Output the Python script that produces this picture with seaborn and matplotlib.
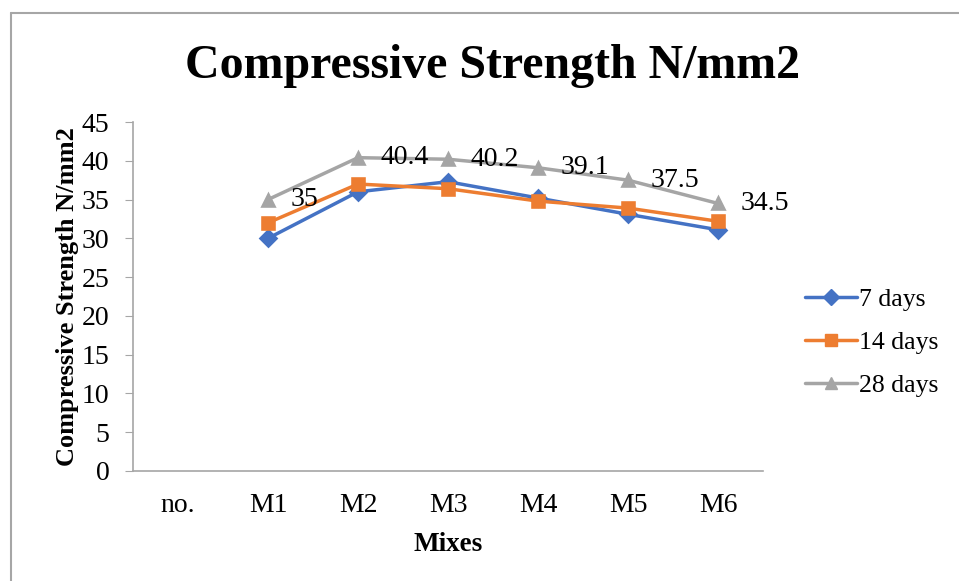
import matplotlib
matplotlib.use("Agg")
import matplotlib.pyplot as plt
from matplotlib.lines import Line2D
import pandas as pd
import seaborn as sns

# chart data
mixes = ['no.', 'M1', 'M2', 'M3', 'M4', 'M5', 'M6']
days_7 = [30.0, 36.0, 37.3, 35.2, 33.1, 31.1]
days_14 = [32.0, 37.0, 36.4, 34.8, 33.9, 32.2]
days_28 = [35.0, 40.4, 40.2, 39.1, 37.5, 34.5]
series_names = ['7 days', '14 days', '28 days']
yticks = [0, 5, 10, 15, 20, 25, 30, 35, 40, 45]

colors = ['#4472C4', '#ED7D31', '#A5A5A5']
markers = ['D', 's', '^']

sns.set_style('white')
plt.rcParams['font.family'] = ['Liberation Serif', 'DejaVu Serif']
plt.rcParams['text.color'] = 'black'
plt.rcParams['axes.labelcolor'] = 'black'
plt.rcParams['xtick.color'] = 'black'
plt.rcParams['ytick.color'] = 'black'

df = pd.DataFrame({
    'mix': mixes[1:] * 3,
    'val': days_7 + days_14 + days_28,
    'series': [s for s in series_names for _ in range(6)],
})

fig = plt.figure(figsize=(9.59, 5.81), dpi=100)
ax = fig.add_axes([133 / 959, 1 - 471 / 581, 630 / 959, 349 / 581])

sns.pointplot(data=df, x='mix', y='val', hue='series', order=mixes,
              hue_order=series_names, palette=colors, markers=markers,
              linestyles='-', errorbar=None, ax=ax, legend=False,
              markersize=8.5, linewidth=2.5)

ax.set_ylim(0, 45)
ax.set_yticks(yticks)
ax.set_xlim(-0.5, len(mixes) - 0.5)
for s in ['top', 'right']:
    ax.spines[s].set_visible(False)
for s in ['left', 'bottom']:
    ax.spines[s].set_color('#A6A6A6')
    ax.spines[s].set_linewidth(1.2)
ax.tick_params(axis='y', direction='out', length=6, color='#A6A6A6',
               labelsize=20, pad=11, left=True, labelcolor='black')
ax.tick_params(axis='x', length=0, labelsize=20, pad=16, labelcolor='black')
ax.set_ylabel('Compressive Strength N/mm2', fontsize=19, fontweight='bold', labelpad=2)
ax.set_xlabel('Mixes', fontsize=19.5, fontweight='bold', labelpad=10)

# data labels on the 28 days series
for i, v in enumerate(days_28):
    ax.annotate(f'{v:g}', (i + 1, v), xytext=(16, 0), textcoords='offset points',
                ha='left', va='center', fontsize=20)

fig.suptitle('Compressive Strength N/mm2', x=492 / 959, y=1 - 66 / 581,
             va='center', fontsize=34.5, fontweight='bold')

handles = [Line2D([], [], color=c, marker=m, markersize=8.5, linewidth=2.5)
           for c, m in zip(colors, markers)]
fig.legend(handles, series_names, loc='upper left',
           bbox_to_anchor=(782 / 959, 1 - 265 / 581), frameon=False,
           fontsize=18.5, handlelength=2.0, handletextpad=0.1, labelspacing=0.78)

# outer chart border
fig.add_artist(Line2D([11 / 959, 11 / 959], [0, 1 - 13 / 581],
                      transform=fig.transFigure, color='#A6A6A6', linewidth=1.5))
fig.add_artist(Line2D([11 / 959, 1], [1 - 13 / 581, 1 - 13 / 581],
                      transform=fig.transFigure, color='#A6A6A6', linewidth=1.5))

fig.savefig('out.png', dpi=100)
